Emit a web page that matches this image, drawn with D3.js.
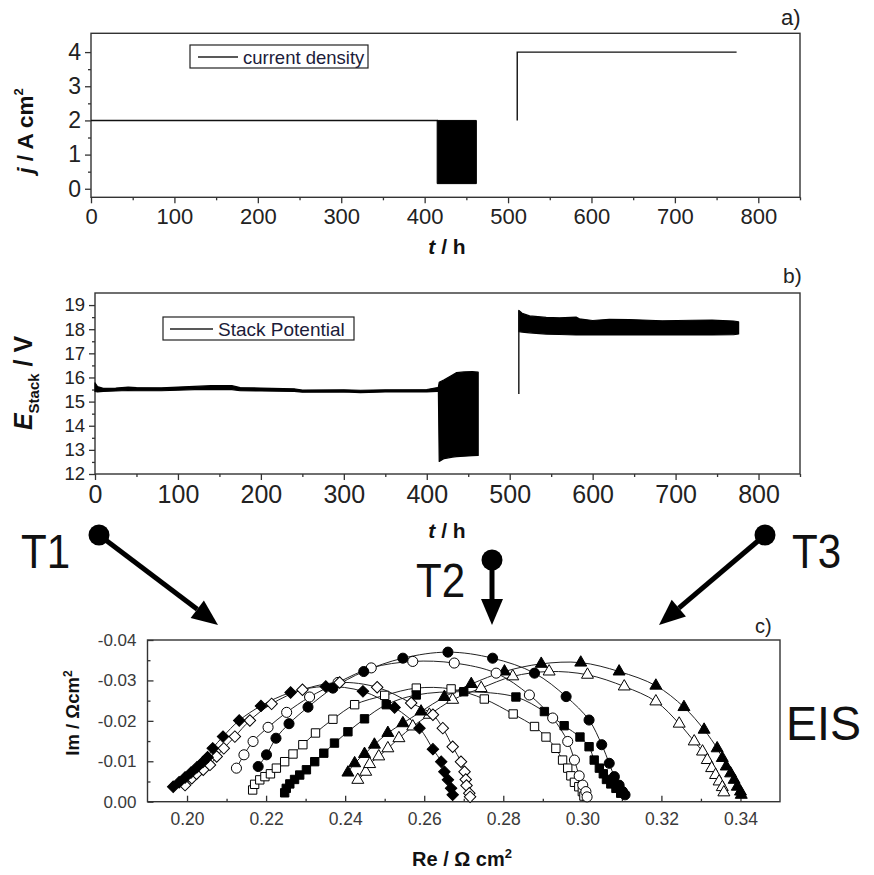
<!DOCTYPE html>
<html>
<head>
<meta charset="utf-8">
<script src="https://cdn.jsdelivr.net/npm/d3@7"></script>
<style>
  body { margin: 0; background: #fff; }
  svg { display: block; font-family: "Liberation Sans", Arial, sans-serif; }
</style>
</head>
<body>
<script>
// ---------- data ----------
// a) current density programme
const timeTicks = [0, 100, 200, 300, 400, 500, 600, 700, 800];
const timeMinor = [50, 150, 250, 350, 450, 550, 650, 750, 850];
const jTicks = [0, 1, 2, 3, 4];
const jMinor = [0.5, 1.5, 2.5, 3.5];
const jConstant1 = [[0, 2], [416, 2]];
const jCycling = [[415, 0.15, 2.0], [462, 0.15, 2.0]];   // [t, low, high]
const jConstant2 = [[511, 2], [511, 4], [774, 4]];

// b) stack potential, envelope [t, min, max]
const eTicks = [12, 13, 14, 15, 16, 17, 18, 19];
const eMinor = [12.5, 13.5, 14.5, 15.5, 16.5, 17.5, 18.5];
const ePhase1 = [
  [0, 15.42, 15.78], [3, 15.40, 15.62], [10, 15.42, 15.55], [25, 15.44, 15.56],
  [40, 15.46, 15.60], [50, 15.45, 15.58], [80, 15.45, 15.57], [100, 15.47, 15.60],
  [120, 15.50, 15.63], [140, 15.50, 15.66], [165, 15.50, 15.66], [175, 15.45, 15.58],
  [200, 15.44, 15.56], [240, 15.42, 15.53], [250, 15.39, 15.48], [300, 15.40, 15.49],
  [320, 15.37, 15.47], [350, 15.40, 15.49], [400, 15.40, 15.50], [413, 15.42, 15.58]
];
const ePhase2 = [
  [414, 15.45, 15.60], [415, 12.52, 15.80], [421, 12.64, 15.90], [431, 12.70, 16.10],
  [436, 12.72, 16.20], [445, 12.74, 16.23], [455, 12.76, 16.24], [462, 12.77, 16.22]
];
const eSpike = [[511, 15.32], [511, 18.78]];
const ePhase3 = [
  [511, 17.90, 18.78], [515, 17.88, 18.66], [524, 17.85, 18.55], [544, 17.80, 18.49],
  [560, 17.78, 18.47], [580, 17.76, 18.50], [584, 17.76, 18.43], [600, 17.76, 18.36],
  [620, 17.76, 18.41], [644, 17.76, 18.40], [684, 17.76, 18.35], [720, 17.76, 18.37],
  [744, 17.76, 18.38], [770, 17.77, 18.34], [776, 17.80, 18.30]
];

// c) impedance spectra [Re, Im] in ohm cm^2
const reTicks = [0.20, 0.22, 0.24, 0.26, 0.28, 0.30, 0.32, 0.34];
const reMinor = [0.21, 0.23, 0.25, 0.27, 0.29, 0.31, 0.33];
const imTicks = [0, -0.01, -0.02, -0.03, -0.04];
const imMinor = [-0.005, -0.015, -0.025, -0.035];

const diamondFilled = [
  [0.1965, -0.0037], [0.1980, -0.0048], [0.1995, -0.0060], [0.2010, -0.0072],
  [0.2025, -0.0085], [0.2040, -0.0098], [0.2052, -0.0110], [0.2065, -0.0132],
  [0.2091, -0.0161], [0.2132, -0.0201], [0.2187, -0.0237], [0.2262, -0.0270],
  [0.2351, -0.0285], [0.2445, -0.0273], [0.2525, -0.0233], [0.2588, -0.0182],
  [0.2622, -0.0130], [0.2643, -0.0099], [0.2651, -0.0074], [0.2660, -0.0054],
  [0.2668, -0.0033], [0.2672, -0.0017]
];
const diamondOpen = [
  [0.1995, -0.0041], [0.2012, -0.0058], [0.2024, -0.0069], [0.2041, -0.0079],
  [0.2058, -0.0091], [0.2075, -0.0112], [0.2093, -0.0132], [0.2121, -0.0161],
  [0.2159, -0.0201], [0.2214, -0.0242], [0.2292, -0.0277], [0.2386, -0.0295],
  [0.2481, -0.0283], [0.2567, -0.0244], [0.2622, -0.0215], [0.2647, -0.0182],
  [0.2672, -0.0136], [0.2693, -0.0099], [0.2702, -0.0074], [0.2705, -0.0055],
  [0.2707, -0.0040], [0.2714, -0.0021], [0.2716, -0.0012]
];
const circleOpen = [
  [0.2125, -0.0083], [0.2144, -0.0116], [0.2167, -0.0149], [0.2205, -0.0184],
  [0.2252, -0.0221], [0.2310, -0.0259], [0.2382, -0.0295], [0.2466, -0.0331],
  [0.2571, -0.0347], [0.2676, -0.0343], [0.2782, -0.0318], [0.2866, -0.0264],
  [0.2925, -0.0207], [0.2963, -0.0149], [0.2980, -0.0103], [0.2992, -0.0064],
  [0.3001, -0.0041], [0.3009, -0.0025], [0.3012, -0.0012]
];
const circleFilled = [
  [0.2180, -0.0087], [0.2201, -0.0116], [0.2225, -0.0157], [0.2258, -0.0193],
  [0.2306, -0.0234], [0.2369, -0.0281], [0.2447, -0.0322], [0.2546, -0.0355],
  [0.2660, -0.0370], [0.2773, -0.0355], [0.2879, -0.0318], [0.2959, -0.0260],
  [0.3017, -0.0202], [0.3049, -0.0141], [0.3068, -0.0095], [0.3081, -0.0062],
  [0.3093, -0.0041], [0.3102, -0.0025], [0.3108, -0.0017]
];
const squareOpen = [
  [0.2166, -0.0029], [0.2171, -0.0043], [0.2184, -0.0054], [0.2197, -0.0062],
  [0.2211, -0.0069], [0.2226, -0.0083], [0.2247, -0.0099], [0.2268, -0.0118],
  [0.2293, -0.0141], [0.2325, -0.0170], [0.2369, -0.0204], [0.2424, -0.0240],
  [0.2500, -0.0263], [0.2580, -0.0281], [0.2668, -0.0279], [0.2752, -0.0254],
  [0.2825, -0.0217], [0.2879, -0.0186], [0.2908, -0.0160], [0.2933, -0.0132],
  [0.2950, -0.0103], [0.2963, -0.0083], [0.2971, -0.0064], [0.2980, -0.0048],
  [0.2991, -0.0037], [0.3000, -0.0025], [0.3004, -0.0014]
];
const squareFilled = [
  [0.2247, -0.0022], [0.2251, -0.0033], [0.2260, -0.0044], [0.2272, -0.0055],
  [0.2285, -0.0066], [0.2302, -0.0079], [0.2323, -0.0099], [0.2346, -0.0120],
  [0.2373, -0.0145], [0.2407, -0.0173], [0.2449, -0.0205], [0.2504, -0.0240],
  [0.2580, -0.0264], [0.2700, -0.0272], [0.2832, -0.0259], [0.2904, -0.0223],
  [0.2954, -0.0188], [0.2994, -0.0160], [0.3017, -0.0136], [0.3030, -0.0103],
  [0.3043, -0.0083], [0.3053, -0.0069], [0.3061, -0.0055], [0.3072, -0.0044],
  [0.3085, -0.0033], [0.3097, -0.0021]
];
const triangleFilled = [
  [0.2407, -0.0072], [0.2424, -0.0095], [0.2449, -0.0118], [0.2474, -0.0141],
  [0.2508, -0.0170], [0.2546, -0.0194], [0.2592, -0.0223], [0.2651, -0.0259],
  [0.2719, -0.0291], [0.2803, -0.0322], [0.2896, -0.0341], [0.2996, -0.0344],
  [0.3093, -0.0322], [0.3186, -0.0287], [0.3257, -0.0234], [0.3308, -0.0178],
  [0.3341, -0.0132], [0.3354, -0.0108], [0.3364, -0.0087], [0.3375, -0.0070],
  [0.3384, -0.0054], [0.3392, -0.0037], [0.3400, -0.0025], [0.3402, -0.0017]
];
const triangleOpen = [
  [0.2432, -0.0054], [0.2452, -0.0074], [0.2462, -0.0093], [0.2485, -0.0112],
  [0.2508, -0.0132], [0.2536, -0.0157], [0.2571, -0.0186], [0.2613, -0.0215],
  [0.2672, -0.0252], [0.2744, -0.0281], [0.2824, -0.0310], [0.2916, -0.0322],
  [0.3013, -0.0314], [0.3106, -0.0285], [0.3186, -0.0248], [0.3245, -0.0193],
  [0.3283, -0.0149], [0.3304, -0.0124], [0.3316, -0.0103], [0.3327, -0.0083],
  [0.3337, -0.0066], [0.3346, -0.0050], [0.3354, -0.0036], [0.3358, -0.0023]
];

// ---------- drawing ----------
const W = 874, H = 875;
const FONT = '"Liberation Sans", Arial, sans-serif';
const svg = d3.select("body").append("svg").attr("width", W).attr("height", H);
svg.append("rect").attr("width", W).attr("height", H).attr("fill", "#fff");

// frame + major/minor ticks for one panel
function frame(box, x, y, o) {
  const g = svg.append("g").attr("color", "#333");
  g.append("rect")
    .attr("x", box.l).attr("y", box.t)
    .attr("width", box.r - box.l).attr("height", box.b - box.t)
    .attr("fill", "none").attr("stroke", "#333").attr("stroke-width", 1.4);

  const xMaj = g.append("g").attr("transform", `translate(0,${box.b})`)
    .call(d3.axisBottom(x).tickValues(o.xMajor).tickSize(o.xTick)
      .tickPadding(o.xPad).tickFormat(o.xFmt));
  const xMin = g.append("g").attr("transform", `translate(0,${box.b})`)
    .call(d3.axisBottom(x).tickValues(o.xMinor).tickSize(o.xTick / 2).tickFormat(""));
  const yMaj = g.append("g").attr("transform", `translate(${box.l},0)`)
    .call(d3.axisLeft(y).tickValues(o.yMajor).tickSize(o.yTick)
      .tickPadding(o.yPad).tickFormat(o.yFmt));
  const yMin = g.append("g").attr("transform", `translate(${box.l},0)`)
    .call(d3.axisLeft(y).tickValues(o.yMinor).tickSize(o.yTick / 2).tickFormat(""));

  [xMaj, xMin, yMaj, yMin].forEach(a => {
    a.select(".domain").remove();
    a.selectAll(".tick line").attr("stroke-width", 1.3);
  });
  xMaj.attr("font-family", FONT).attr("font-size", o.xFont);
  yMaj.attr("font-family", FONT).attr("font-size", o.yFont);
  xMaj.selectAll("text").attr("fill", o.labelColor);
  yMaj.selectAll("text").attr("fill", o.labelColor);
}

function text(x, y, s, size, opts = {}) {
  const t = svg.append("text").attr("x", x).attr("y", y)
    .attr("font-family", FONT).attr("font-size", size)
    .attr("fill", opts.fill || "#111")
    .attr("font-weight", opts.bold ? "bold" : "normal")
    .attr("text-anchor", opts.anchor || "start");
  if (opts.transform) t.attr("transform", opts.transform);
  t.text(s);
  return t;
}

// ===== panel a =====
const boxA = { l: 91, r: 800, t: 33.3, b: 197.3 };
const xA = d3.scaleLinear().domain([0, 850]).range([boxA.l, boxA.r]);
const yA = d3.scaleLinear().domain([-0.25, 4.55]).range([boxA.b, boxA.t]);

frame(boxA, xA, yA, {
  xMajor: timeTicks, xMinor: timeMinor, xTick: 6, xPad: 5, xFmt: d3.format("d"), xFont: 22,
  yMajor: jTicks, yMinor: jMinor, yTick: 6, yPad: 4, yFmt: d3.format("d"), yFont: 23,
  labelColor: "#222"
});

const lineA = d3.line().x(d => xA(d[0])).y(d => yA(d[1]));
svg.append("path").datum(jConstant1).attr("d", lineA)
  .attr("fill", "none").attr("stroke", "#111").attr("stroke-width", 1.4);
svg.append("path").datum(jConstant2).attr("d", lineA)
  .attr("fill", "none").attr("stroke", "#111").attr("stroke-width", 1.4);
svg.append("path").datum(jCycling)
  .attr("d", d3.area().x(d => xA(d[0])).y0(d => yA(d[1])).y1(d => yA(d[2])))
  .attr("fill", "#000").attr("stroke", "#000").attr("stroke-width", 1);

// legend a
svg.append("rect").attr("x", 190).attr("y", 45).attr("width", 178).attr("height", 23)
  .attr("fill", "#fff").attr("stroke", "#222").attr("stroke-width", 1.2);
svg.append("line").attr("x1", 198).attr("x2", 238).attr("y1", 57).attr("y2", 57)
  .attr("stroke", "#222").attr("stroke-width", 1.3);
text(243, 63.5, "current density", 18.5, { fill: "#1c1c3a" });

text(781, 25, "a)", 22, { fill: "#222" });

// y title a
const ytA = svg.append("text").attr("font-family", FONT).attr("font-weight", "bold")
  .attr("font-size", 22.5).attr("fill", "#111").attr("text-anchor", "middle")
  .attr("transform", "translate(33,131) rotate(-90)");
ytA.append("tspan").attr("font-style", "italic").text("j");
ytA.append("tspan").text(" / A cm");
ytA.append("tspan").attr("font-size", 13).attr("dy", -10).text("2");

// x title a
const xtA = svg.append("text").attr("x", 447).attr("y", 254).attr("font-family", FONT)
  .attr("font-weight", "bold").attr("font-size", 21).attr("fill", "#111")
  .attr("text-anchor", "middle");
xtA.append("tspan").attr("font-style", "italic").text("t");
xtA.append("tspan").text(" / h");

// ===== panel b =====
const boxB = { l: 95, r: 800, t: 293, b: 474 };
const xB = d3.scaleLinear().domain([0, 850]).range([boxB.l, boxB.r]);
const yB = d3.scaleLinear().domain([12, 19.5]).range([boxB.b, boxB.t]);

frame(boxB, xB, yB, {
  xMajor: timeTicks, xMinor: timeMinor, xTick: 6, xPad: 5, xFmt: d3.format("d"), xFont: 25,
  yMajor: eTicks, yMinor: eMinor, yTick: 6, yPad: 4, yFmt: d3.format("d"), yFont: 18.5,
  labelColor: "#222"
});

const bandB = d3.area().x(d => xB(d[0])).y0(d => yB(d[1])).y1(d => yB(d[2]));
[ePhase1, ePhase2, ePhase3].forEach(seg => {
  svg.append("path").datum(seg).attr("d", bandB)
    .attr("fill", "#000").attr("stroke", "#000").attr("stroke-width", 1.2)
    .attr("stroke-linejoin", "round");
});
svg.append("path").datum(eSpike)
  .attr("d", d3.line().x(d => xB(d[0])).y(d => yB(d[1])))
  .attr("stroke", "#111").attr("stroke-width", 1.4);

// legend b
svg.append("rect").attr("x", 163).attr("y", 317).attr("width", 191).attr("height", 23)
  .attr("fill", "#fff").attr("stroke", "#222").attr("stroke-width", 1.2);
svg.append("line").attr("x1", 170).attr("x2", 213).attr("y1", 329).attr("y2", 329)
  .attr("stroke", "#222").attr("stroke-width", 1.3);
text(218, 335.5, "Stack Potential", 19, { fill: "#1c1c3a" });

text(783, 283, "b)", 21, { fill: "#222" });

// y title b
const ytB = svg.append("text").attr("font-family", FONT).attr("font-weight", "bold")
  .attr("font-size", 25).attr("fill", "#111").attr("text-anchor", "middle")
  .attr("transform", "translate(32,383) rotate(-90)");
ytB.append("tspan").attr("font-style", "italic").text("E");
ytB.append("tspan").attr("font-size", 15).attr("dy", 7).text("Stack");
ytB.append("tspan").attr("dy", -7).text(" / V");

// x title b
const xtB = svg.append("text").attr("x", 447).attr("y", 538).attr("font-family", FONT)
  .attr("font-weight", "bold").attr("font-size", 21).attr("fill", "#111")
  .attr("text-anchor", "middle");
xtB.append("tspan").attr("font-style", "italic").text("t");
xtB.append("tspan").text(" / h");

// ===== time markers and arrows =====
function pointer(x1, y1, x2, y2) {
  const ang = Math.atan2(y2 - y1, x2 - x1);
  const len = 26, half = 11;
  const bx = x2 - len * Math.cos(ang), by = y2 - len * Math.sin(ang);
  svg.append("line").attr("x1", x1).attr("y1", y1).attr("x2", bx).attr("y2", by)
    .attr("stroke", "#000").attr("stroke-width", 5);
  const px = -Math.sin(ang) * half, py = Math.cos(ang) * half;
  svg.append("polygon")
    .attr("points", [[x2, y2], [bx + px, by + py], [bx - px, by - py]].map(p => p.join(",")).join(" "))
    .attr("fill", "#000");
  svg.append("circle").attr("cx", x1).attr("cy", y1).attr("r", 10.5).attr("fill", "#000");
}
pointer(99, 535, 218, 625);
pointer(492, 560, 492, 625);
pointer(765, 535, 659, 625);

function bigLabel(x, y, s, sx) {
  svg.append("text").attr("font-family", FONT).attr("font-size", 49).attr("fill", "#111")
    .attr("transform", `translate(${x},${y}) scale(${sx},1)`).text(s);
}
bigLabel(21, 568, "T1", 0.86);
bigLabel(416, 597, "T2", 0.86);
bigLabel(792, 568, "T3", 0.86);
bigLabel(786, 740, "EIS", 0.95);

// ===== panel c =====
const boxC = { l: 147.5, r: 780, t: 640, b: 801.7 };
const xC = d3.scaleLinear().domain([0.19, 0.35]).range([boxC.l, boxC.r]);
const yC = d3.scaleLinear().domain([0, -0.04]).range([boxC.b, boxC.t]);

const fmt2 = v => (Math.abs(v) < 1e-9 ? 0 : v).toFixed(2);
frame(boxC, xC, yC, {
  xMajor: reTicks, xMinor: reMinor, xTick: -6, xPad: 11, xFmt: fmt2, xFont: 17.5,
  yMajor: imTicks, yMinor: imMinor, yTick: -6, yPad: 11, yFmt: fmt2, yFont: 17,
  labelColor: "#3a3a3a"
});

const fitLine = d3.line().x(d => xC(d[0])).y(d => yC(d[1])).curve(d3.curveCatmullRom.alpha(0.5));
const spectra = [
  { data: triangleOpen, shape: d3.symbolTriangle, size: 62, fill: "#fff", rot: 0 },
  { data: triangleFilled, shape: d3.symbolTriangle, size: 62, fill: "#000", rot: 0 },
  { data: squareOpen, shape: d3.symbolSquare, size: 70, fill: "#fff", rot: 0 },
  { data: squareFilled, shape: d3.symbolSquare, size: 70, fill: "#000", rot: 0 },
  { data: circleOpen, shape: d3.symbolCircle, size: 80, fill: "#fff", rot: 0 },
  { data: circleFilled, shape: d3.symbolCircle, size: 80, fill: "#000", rot: 0 },
  { data: diamondOpen, shape: d3.symbolSquare, size: 66, fill: "#fff", rot: 45 },
  { data: diamondFilled, shape: d3.symbolSquare, size: 66, fill: "#000", rot: 45 }
];
spectra.forEach(s => {
  svg.append("path").datum(s.data).attr("d", fitLine)
    .attr("fill", "none").attr("stroke", "#222").attr("stroke-width", 1);
});
spectra.forEach(s => {
  svg.append("g").selectAll("path").data(s.data).join("path")
    .attr("d", d3.symbol().type(s.shape).size(s.size))
    .attr("transform", d => `translate(${xC(d[0])},${yC(d[1])}) rotate(${s.rot})`)
    .attr("fill", s.fill).attr("stroke", "#000").attr("stroke-width", 1);
});

text(755, 633, "c)", 20, { fill: "#222" });

// axis titles c
const xtC = svg.append("text").attr("x", 462).attr("y", 866).attr("font-family", FONT)
  .attr("font-weight", "bold").attr("font-size", 20).attr("fill", "#111")
  .attr("text-anchor", "middle");
xtC.append("tspan").text("Re / \u03A9 cm");
xtC.append("tspan").attr("font-size", 13).attr("dy", -8).text("2");

const ytC = svg.append("text").attr("font-family", FONT).attr("font-weight", "bold")
  .attr("font-size", 18.5).attr("fill", "#111").attr("text-anchor", "middle")
  .attr("transform", "translate(79,713) rotate(-90)");
ytC.append("tspan").text("Im / \u03A9cm");
ytC.append("tspan").attr("font-size", 12).attr("dy", -7).text("2");
</script>
</body>
</html>
